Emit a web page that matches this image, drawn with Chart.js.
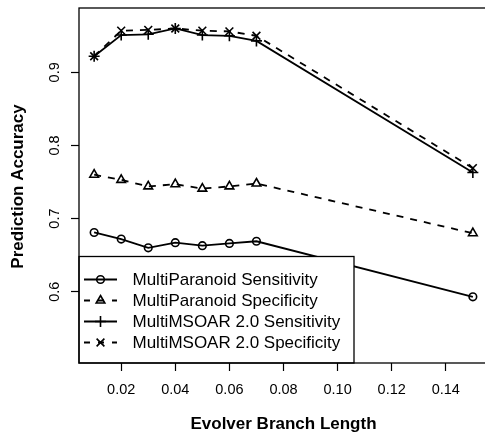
<!DOCTYPE html>
<html>
<head>
<meta charset="utf-8">
<script src="https://cdn.jsdelivr.net/npm/chart.js@4/dist/chart.umd.min.js"></script>
<style>
  html, body { margin: 0; padding: 0; overflow: hidden; background: #fff; }
  canvas { display: block; }
</style>
</head>
<body>
<canvas id="chart" width="496" height="437"></canvas>
<script>
// branch lengths on the x axis
const branchLengths = [0.01, 0.02, 0.03, 0.04, 0.05, 0.06, 0.07, 0.15];

const paranoidSens = [0.681, 0.672, 0.660, 0.667, 0.663, 0.666, 0.669, 0.593];
const paranoidSpec = [0.760, 0.753, 0.744, 0.747, 0.741, 0.744, 0.748, 0.680];
const msoarSens = [0.922, 0.951, 0.952, 0.960, 0.951, 0.950, 0.943, 0.763];
const msoarSpec = [0.922, 0.957, 0.958, 0.960, 0.957, 0.956, 0.950, 0.769];

const seriesLabels = [
  'MultiParanoid Sensitivity',
  'MultiParanoid Specificity',
  'MultiMSOAR 2.0 Sensitivity',
  'MultiMSOAR 2.0 Specificity'
];

const xTicks = [0.02, 0.04, 0.06, 0.08, 0.10, 0.12, 0.14];
const yTicks = [0.6, 0.7, 0.8, 0.9];

const FONT = '"Liberation Sans", Arial, Helvetica, sans-serif';
const DASH = [7, 7];

function toPoints(ys) {
  return branchLengths.map((x, i) => ({ x: x, y: ys[i] }));
}

function series(label, ys, style, radius, dashed) {
  return {
    label: label,
    data: toPoints(ys),
    borderColor: '#000',
    borderWidth: 1.8,
    borderDash: dashed ? DASH : [],
    pointStyle: style,
    pointRadius: radius,
    pointBorderWidth: 1.6,
    pointBorderColor: '#000',
    pointBackgroundColor: 'rgba(0,0,0,0)',
    tension: 0,
    fill: false
  };
}

// box, rotated y labels, axis titles and the R-style legend
const decor = {
  id: 'decor',
  afterDatasetsDraw(chart) {
    const ctx = chart.ctx;
    const area = chart.chartArea;
    ctx.save();

    // legend
    const lx = area.left, ly = 256.5, lw = 275, lh = area.bottom - 256.5;
    ctx.fillStyle = '#fff';
    ctx.fillRect(lx, ly, lw, lh);
    ctx.strokeStyle = '#000';
    ctx.lineWidth = 1.3;
    ctx.strokeRect(lx, ly, lw, lh);

    chart.data.datasets.forEach((ds, i) => {
      const y = 279.5 + i * 21;
      ctx.strokeStyle = '#000';
      ctx.lineWidth = ds.borderWidth;
      ctx.setLineDash(ds.borderDash.length ? [6, 8] : []);
      ctx.beginPath();
      ctx.moveTo(84, y);
      ctx.lineTo(117, y);
      ctx.stroke();
      ctx.setLineDash([]);
      ctx.fillStyle = 'rgba(0,0,0,0)';
      ctx.lineWidth = ds.pointBorderWidth;
      Chart.helpers.drawPoint(ctx, {
        pointStyle: ds.pointStyle,
        radius: ds.pointRadius,
        rotation: 0,
        borderWidth: ds.pointBorderWidth
      }, 100.5, y);
      ctx.fillStyle = '#000';
      ctx.font = '17px ' + FONT;
      ctx.textAlign = 'left';
      ctx.textBaseline = 'middle';
      ctx.fillText(seriesLabels[i], 132.5, y + 1);
    });

    // plot box
    ctx.strokeStyle = '#000';
    ctx.lineWidth = 1.3;
    ctx.strokeRect(area.left, area.top, area.right - area.left, area.bottom - area.top);

    // y tick labels, rotated like R
    const ys = chart.scales.y;
    ctx.fillStyle = '#000';
    ctx.font = '14.5px ' + FONT;
    ctx.textAlign = 'center';
    ctx.textBaseline = 'middle';
    yTicks.forEach(v => {
      ctx.save();
      ctx.translate(55, ys.getPixelForValue(v));
      ctx.rotate(-Math.PI / 2);
      ctx.fillText(v.toFixed(1), 0, 0);
      ctx.restore();
    });

    // axis titles
    ctx.font = 'bold 17px ' + FONT;
    ctx.fillText('Evolver Branch Length', (area.left + area.right) / 2, 424);
    ctx.save();
    ctx.translate(18, (area.top + area.bottom) / 2 + 1);
    ctx.rotate(-Math.PI / 2);
    ctx.fillText('Prediction Accuracy', 0, 0);
    ctx.restore();

    ctx.restore();
  }
};

new Chart(document.getElementById('chart'), {
  type: 'line',
  data: {
    datasets: [
      series(seriesLabels[0], paranoidSens, 'circle', 3.8, false),
      series(seriesLabels[1], paranoidSpec, 'triangle', 5, true),
      series(seriesLabels[2], msoarSens, 'cross', 5.5, false),
      series(seriesLabels[3], msoarSpec, 'crossRot', 5.5, true)
    ]
  },
  options: {
    responsive: false,
    animation: false,
    devicePixelRatio: 1,
    layout: { padding: { top: 8, right: 8, left: 0, bottom: 0 } },
    plugins: {
      legend: { display: false },
      tooltip: { enabled: false }
    },
    scales: {
      x: {
        type: 'linear',
        min: 0.0044,
        max: 0.1556,
        afterBuildTicks: s => { s.ticks = xTicks.map(v => ({ value: v })); },
        afterFit: s => { s.height = 74; },
        grid: {
          drawOnChartArea: false,
          drawTicks: true,
          tickLength: 8,
          tickColor: '#000',
          tickWidth: 1.2
        },
        border: { display: false },
        ticks: {
          color: '#000',
          padding: 10,
          maxRotation: 0,
          font: { family: FONT, size: 14.5 },
          callback: v => v.toFixed(2)
        }
      },
      y: {
        type: 'linear',
        min: 0.5025,
        max: 0.988,
        afterBuildTicks: s => { s.ticks = yTicks.map(v => ({ value: v })); },
        afterFit: s => { s.width = 79; },
        grid: {
          drawOnChartArea: false,
          drawTicks: true,
          tickLength: 8,
          tickColor: '#000',
          tickWidth: 1.2
        },
        border: { display: false },
        ticks: { display: false }
      }
    }
  },
  plugins: [decor]
});
</script>
</body>
</html>
